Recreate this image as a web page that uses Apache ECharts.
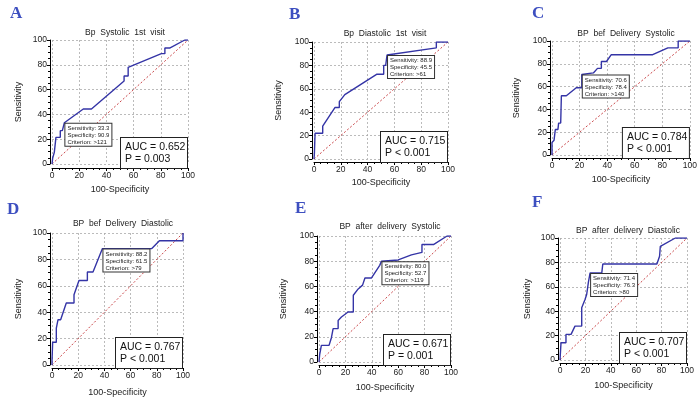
<!DOCTYPE html>
<html>
<head>
<meta charset="utf-8">
<script src="https://cdn.jsdelivr.net/npm/echarts@6/dist/echarts.min.js"></script>
<style>html,body{margin:0;padding:0;background:#fff}#roc{width:700px;height:398px}</style>
</head>
<body>
<div id="roc"></div>
<script>
// panel data (100-Specificity, Sensitivity)
var letters = ['A', 'B', 'C', 'D', 'E', 'F'];
var titles = ['Bp  Systolic  1st  visit', 'Bp  Diastolic  1st  visit', 'BP  bef  Delivery  Systolic',
    'BP  bef  Delivery  Diastolic', 'BP  after  delivery  Systolic', 'BP  after  delivery  Diastolic'];
var curveA = [[0,0],[0.5,0],[0.5,4.8],[1.7,4.8],[1.7,9.4],[2.9,11],[2.9,21.5],[6.1,21.5],[6.1,26.9],[7.6,26.9],[9.1,33.3],
    [23,44.4],[29,44.4],[53,67],[53,71],[56,71],[56,78],[80.4,89],[83,89],[83,93.5],[86.5,93.5],[97.6,100],[100,100]];
var curveB = [[0,0],[0.3,5],[0.8,5],[0.8,22],[6.5,22],[6.5,28],[15.6,44],[18.9,44],[18.9,49],[20,50],[23,55],
    [46.7,72.4],[52,72.4],[52,80],[53.5,80],[54.5,88.9],[91.3,95],[91.3,100],[100,100]];
var curveC = [[0,0],[0,11],[1.5,13],[2.4,22.4],[4.3,22.4],[4.8,28],[6.3,28],[6.8,52],[10.4,52],[17.6,59],[21.6,59],
    [21.6,70.6],[30,72],[33,76],[35.8,76],[35.8,82],[39.5,82],[43,88],[73,88],[84,94],[91.5,94],[91.5,100],[100,100]];
var curveD = [[0,0],[0,3],[0.5,3],[0.5,17.2],[3.3,17.2],[3.3,28],[4,28],[4.6,34.3],[6.6,34.3],[10.9,47],[16.8,47],
    [16.8,53.3],[17.5,53.3],[20.6,64],[27,64],[27,70.5],[31.3,70.5],[38.5,88.2],[76.2,88.2],[82,94.1],[100,94.1],[100,100]];
var curveE = [[0,0],[0.5,5.8],[1.8,13.2],[7.6,13.2],[9.4,19.3],[10.7,26.5],[14.5,26.5],[14.5,33],[17,35.7],[22,39.7],
    [26,39.7],[26,53],[29.7,58],[33,61],[34.8,66.7],[39.8,66.7],[46,76.7],[47.3,80],[60,81],[70,85],[78,87],[78,93.3],
    [87,93.3],[97,100],[100,100]];
var curveF = [[0,0],[0.8,0],[0.8,14.2],[4.7,14.2],[4.7,21],[8.7,21],[11.8,27.8],[17.1,27.8],[17.1,42.8],[19.7,49.6],
    [21,53.7],[22.4,64],[23.7,71.4],[32.9,71.4],[33.7,78.7],[76.3,78.7],[78.4,85],[79,93.2],[90.8,100],[100,100]];
var curves = [curveA, curveB, curveC, curveD, curveE, curveF];
var sensitivity = ['33.3', '88.9', '70.6', '88.2', '80.0', '71.4'];
var specificity = ['90.9', '45.5', '78.4', '61.5', '52.7', '76.3'];
var criterion = ['>121', '>61', '>140', '>79', '>119', '>80'];
var auc = ['0.652', '0.715', '0.784', '0.767', '0.671', '0.707'];
var pValues = ['P = 0.003', 'P < 0.001', 'P < 0.001', 'P < 0.001', 'P = 0.001', 'P < 0.001'];
var diagonal = [[0, 0], [100, 100]];

// layout of each panel (pixels)
var panels = [
    {l: 52, t: 40, w: 136, h: 124, ox: 4, oy: 2, gx: 17, gy: 27, tx: 120, ty: 23, lx: 5, ly: 0},
    {l: 314, t: 42, w: 134, h: 117, ox: 3, oy: 2, gx: 16, gy: 29, tx: 380, ty: 24, lx: 284, ly: 1},
    {l: 552, t: 41, w: 138, h: 114, ox: 3, oy: 2, gx: 17, gy: 29, tx: 621, ty: 24, lx: 527, ly: 0},
    {l: 52, t: 233, w: 131, h: 132, ox: 3, oy: 2, gx: 20, gy: 27, tx: 118, ty: 214, lx: 2, ly: 196},
    {l: 319, t: 236, w: 132, h: 126, ox: 3, oy: 2, gx: 18, gy: 29, tx: 385, ty: 217, lx: 290, ly: 195},
    {l: 560, t: 238, w: 127, h: 122, ox: 3, oy: 2, gx: 18, gy: 26, tx: 623, ty: 221, lx: 527, ly: 189}
];

var font = 'Liberation Sans, Arial, sans-serif';
var option = {animation: false, title: [], grid: [], xAxis: [], yAxis: [], series: []};

panels.forEach(function (p, i) {
    option.title.push({
        text: letters[i], left: p.lx, top: p.ly,
        textStyle: {fontFamily: 'Liberation Serif, serif', fontWeight: 'bold', fontSize: 17, color: '#3d4fc0'}
    });
    option.title.push({
        text: titles[i], left: p.tx, top: p.ty, textAlign: 'center',
        textStyle: {fontFamily: font, fontWeight: 'normal', fontSize: 8.5, color: '#222'}
    });
    option.grid.push({left: p.l, top: p.t, width: p.w, height: p.h});
    var common = {
        gridIndex: i, type: 'value', min: 0, max: 100, interval: 20,
        nameLocation: 'middle',
        nameTextStyle: {fontFamily: font, fontSize: 9, color: '#222'},
        axisLine: {onZero: false, lineStyle: {color: '#000', width: 1}},
        axisTick: {length: 3, lineStyle: {color: '#000'}},
        minorTick: {show: true, splitNumber: 4, length: 2, lineStyle: {color: '#000'}},
        axisLabel: {fontFamily: font, fontSize: 8.5, color: '#222', margin: 3},
        splitLine: {lineStyle: {color: '#aaa', type: [2, 2], width: 0.8}}
    };
    option.xAxis.push(Object.assign({}, common, {name: '100-Specificity', offset: p.ox, nameGap: p.gx}));
    option.yAxis.push(Object.assign({}, common, {name: 'Sensitivity', offset: p.oy, nameGap: p.gy}));

    option.series.push({
        type: 'line', xAxisIndex: i, yAxisIndex: i, data: diagonal, symbol: 'none', silent: true,
        lineStyle: {color: '#c9474a', width: 1, type: [2, 2]}, z: 1
    });
    var pt = curves[i].filter(function (d) { return d[1] === parseFloat(sensitivity[i]); })[0];
    option.series.push({
        type: 'line', xAxisIndex: i, yAxisIndex: i, data: curves[i], symbol: 'none', silent: true,
        lineStyle: {color: '#3434a6', width: 1.4}, z: 2,
        markPoint: {
            symbol: 'rect', symbolSize: 0, silent: true, animation: false,
            data: [{
                coord: pt,
                label: {
                    show: true, position: [1, 1], align: 'left', verticalAlign: 'top',
                    formatter: 'Sensitivity: ' + sensitivity[i] + '\nSpecificity: ' + specificity[i] +
                        '\nCriterion: ' + criterion[i],
                    fontFamily: font, fontSize: 6, lineHeight: 7, color: '#222',
                    backgroundColor: '#fff', borderColor: '#333', borderWidth: 1, padding: [1, 2, 0, 2]
                }
            }, {
                coord: [100, 0],
                label: {
                    show: true, position: [-67, p.ox], align: 'left', verticalAlign: 'bottom',
                    width: 58, overflow: 'none',
                    formatter: 'AUC = ' + auc[i] + '\n' + pValues[i],
                    fontFamily: font, fontSize: 10.5, lineHeight: 12, color: '#111',
                    backgroundColor: '#fff', borderColor: '#222', borderWidth: 1, padding: [3, 4, 3, 4]
                }
            }]
        }
    });
});

var myChart = echarts.init(document.getElementById('roc'));
myChart.setOption(option);
</script>
</body>
</html>
